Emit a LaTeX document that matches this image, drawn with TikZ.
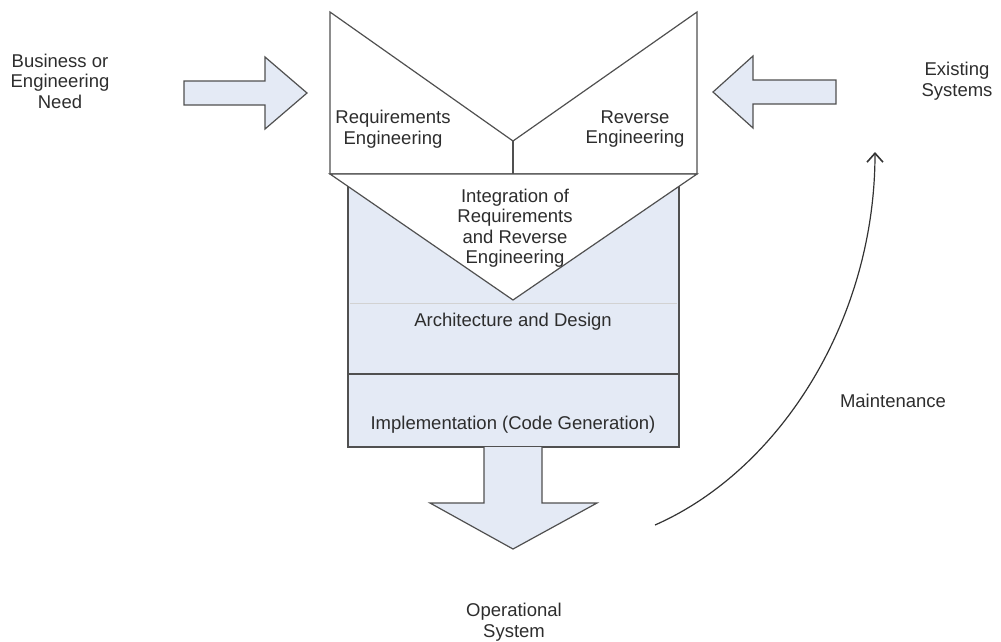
\documentclass[tikz,border=0pt]{standalone}
\usepackage{fontspec}
\setmainfont{Liberation Sans}
\usetikzlibrary{arrows.meta}
\definecolor{boxfill}{RGB}{228,234,245}
\definecolor{edge}{RGB}{80,80,80}
\definecolor{txt}{RGB}{45,45,45}
\begin{document}
\begin{tikzpicture}[x=1pt,y=-1pt,
  lbl/.style={text=txt,align=center,font=\fontsize{18.5}{20.5}\selectfont,inner sep=0pt},
  outl/.style={draw=edge,line width=1.2pt,line join=miter},
  fat/.style={outl,fill=boxfill}]
\useasboundingbox (0,0) rectangle (1001,641);
% lower box
\path[fat] (348,174) rectangle (679,447);
\draw[gray!35,line width=0.8pt] (350,303) -- (677,303);
\draw[edge,line width=1.2pt] (348,374) -- (679,374);
% top box
\path[outl,fill=white] (330,12) -- (330,174) -- (697,174) -- (697,12) -- (513,141) -- cycle;
\coordinate (vtip) at (513,141);
\coordinate (vbase) at (513,174);
\draw[outl] (vtip) -- (vbase);
% integration triangle
\path[outl,fill=white] (330,174) -- (513,300) -- (697,174) -- cycle;
% left arrow
\path[fat] (184,81) -- (265,81) -- (265,57) -- (307,93) -- (265,129) -- (265,105) -- (184,105) -- cycle;
% right arrow
\path[fat] (836,80) -- (753,80) -- (753,56) -- (713,92) -- (753,128) -- (753,104) -- (836,104) -- cycle;
% down arrow
\path[fat] (484,447) -- (484,503) -- (430,503) -- (513,549) -- (597,503) -- (542,503) -- (542,447);
% texts
\node[lbl] (req) at (393,129) {Requirements\\Engineering};
\node[lbl] (rev) at (635,129) {Reverse\\Engineering};
\node[lbl] (integ) at (515,228) {Integration of\\Requirements\\and Reverse\\Engineering};
\node[lbl] (arch) at (513,322) {Architecture and Design};
\node[lbl] (impl) at (513,425) {Implementation (Code Generation)};
\node[lbl] (ops) at (514,622) {Operational\\System};
\node[lbl] (need) at (60,81) {Business or\\Engineering\\Need};
\node[lbl] (exist) at (957,81) {Existing\\Systems};
\node[lbl] (maint) at (893,401) {Maintenance};
% maintenance arrow
\coordinate (mstart) at (655,525);
\coordinate (mend) at (875,152);
\draw[black!80,line width=1.2pt,-{Straight Barb[length=9pt,width=16pt,line width=1.6pt]}] (mstart) .. controls (780,470) and (875,320) .. (mend);
\end{tikzpicture}
\end{document}
